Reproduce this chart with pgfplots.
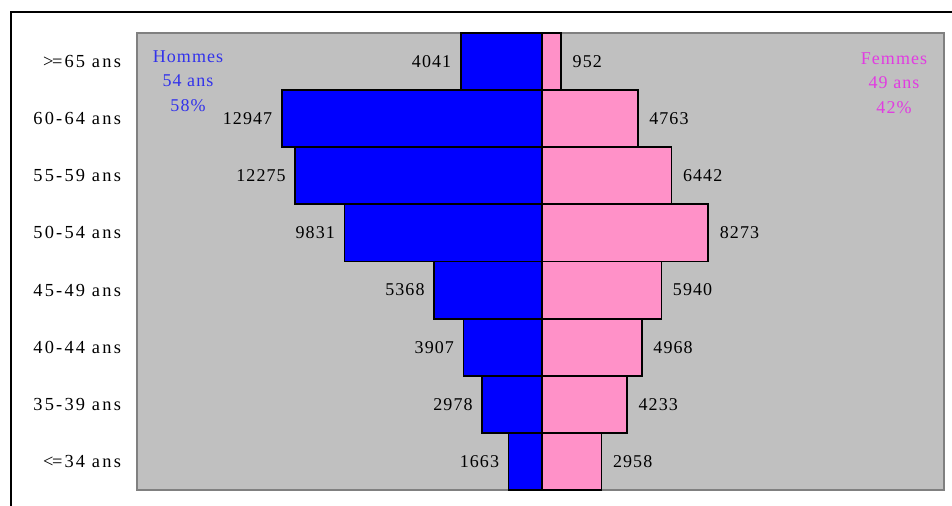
\documentclass[border=0pt]{standalone}
\usepackage{fontspec}
\setmainfont{Liberation Serif}[LetterSpace=6]
\newfontfamily\tickfont{Liberation Serif}[LetterSpace=12]
\usepackage{pgfplots}
\pgfplotsset{compat=1.18}
\definecolor{plotgray}{RGB}{192,192,192}
\definecolor{framegray}{RGB}{128,128,128}
\definecolor{hblue}{RGB}{0,0,255}
\definecolor{fpink}{RGB}{255,145,200}
\definecolor{htext}{RGB}{50,50,235}
\definecolor{ftext}{RGB}{225,60,225}
\begin{document}
\begin{tikzpicture}
\useasboundingbox (0,0) rectangle (476pt,253pt);
\draw[line width=1pt] (5.5pt,0) -- (5.5pt,247pt) -- (476pt,247pt);
\begin{axis}[
  at={(68.5pt,8pt)}, anchor=south west,
  scale only axis, width=403.5pt, height=228.5pt,
  xmin=-20150, xmax=20000, ymin=-0.5, ymax=7.5,
  xbar, bar width=1, bar shift=0,
  axis background/.style={fill=plotgray},
  axis line style={draw=framegray, line width=0.8pt},
  xtick=\empty,
  ytick={0,1,2,3,4,5,6,7},
  yticklabels={{<\kern-0.8pt=34 ans},{35-39 ans},{40-44 ans},{45-49 ans},{50-54 ans},{55-59 ans},{60-64 ans},{>\kern-0.8pt=65 ans}},
  major tick length=0pt,
  yticklabel style={font=\tickfont\fontsize{9.2}{10}\selectfont, xshift=-4.5pt},
  point meta=explicit symbolic,
  nodes near coords={\pgfplotspointmeta},
  nodes near coords style={font=\fontsize{9}{10}\selectfont, text=black},
  clip=false,
]
\addplot[fill=hblue, draw=black, line width=0.9pt, nodes near coords style={anchor=east, xshift=-1pt}]
  coordinates {(-1663,0) [1663] (-2978,1) [2978] (-3907,2) [3907] (-5368,3) [5368]
               (-9831,4) [9831] (-12275,5) [12275] (-12947,6) [12947] (-4041,7) [4041]};
\addplot[fill=fpink, draw=black, line width=0.9pt, nodes near coords style={anchor=west, xshift=2pt}]
  coordinates {(2958,0) [2958] (4233,1) [4233] (4968,2) [4968] (5940,3) [5940]
               (8273,4) [8273] (6442,5) [6442] (4763,6) [4763] (952,7) [952]};
\end{axis}
\node[align=center, text=htext, font=\fontsize{9}{12.25}\selectfont, anchor=center] at (94pt,212.5pt) {Hommes\\54 ans\\58\%};
\node[align=center, text=ftext, font=\fontsize{9}{12.25}\selectfont, anchor=center] at (447pt,211.5pt) {Femmes\\49 ans\\42\%};
\end{tikzpicture}
\end{document}
